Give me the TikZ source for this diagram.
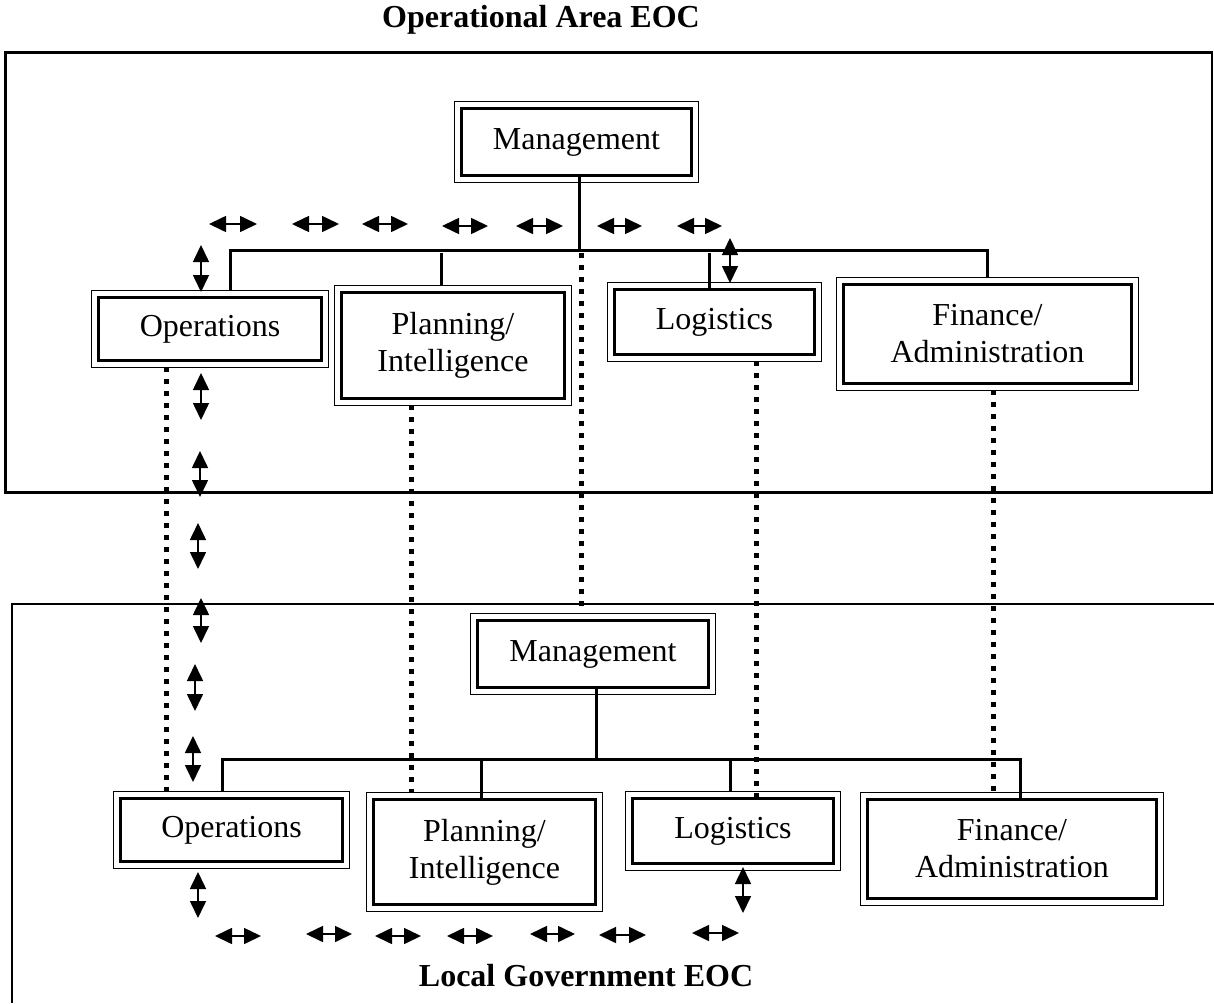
\documentclass[tikz,border=0pt]{standalone}
\usepackage{fontspec}
\setmainfont{Liberation Serif}
\usetikzlibrary{arrows.meta}
\begin{document}
\begin{tikzpicture}[x=1pt,y=-1pt,
  boxtext/.style={font=\fontsize{32}{37}\selectfont},
  dbox/.style={draw, line width=2.8pt, inner sep=0pt, align=center, boxtext},
  outerline/.style={line width=1.4pt},
  conn/.style={line width=3pt},
  dots/.style={line width=5pt, dash pattern=on 5pt off 7pt},
  darr/.style={{Triangle[length=17pt,width=16pt]}-{Triangle[length=17pt,width=16pt]}, line width=1.6pt},
  heading/.style={font=\bfseries\fontsize{32}{37}\selectfont, anchor=base}
]
\useasboundingbox (0,0) rectangle (1214,1003);

% frames
\draw[line width=3.5pt] (1212,52.5) -- (5.5,52.5) -- (5.5,492.5) -- (1212,492.5);
\draw[line width=1.2pt] (1212,51) -- (1212,494);
\draw[line width=1.5pt] (1214,604) -- (12,604) -- (12,1003);

% headings
\node[heading] (t1) at (541,28) {Operational Area EOC};
\node[heading] (t2) at (586,986) {Local Government EOC};

% top boxes
\node[dbox, minimum width=230pt, minimum height=67pt] (tm) at (576.5,142) {Management};
\node[dbox, minimum width=223pt, minimum height=63pt] (to) at (210,329) {Operations};
\node[dbox, minimum width=223pt, minimum height=106pt] (tp) at (453,345.5) {Planning/\\Intelligence};
\node[dbox, minimum width=200pt, minimum height=65pt] (tl) at (714.5,322) {Logistics};
\node[dbox, minimum width=288pt, minimum height=99pt] (tf) at (987.5,334) {Finance/\\Administration};

% bottom boxes
\node[dbox, minimum width=231pt, minimum height=67pt] (bm) at (593,654) {Management};
\node[dbox, minimum width=222pt, minimum height=63pt] (bo) at (231.5,830) {Operations};
\node[dbox, minimum width=222pt, minimum height=105pt] (bp) at (484.5,852) {Planning/\\Intelligence};
\node[dbox, minimum width=201pt, minimum height=65pt] (bl) at (733,831) {Logistics};
\node[dbox, minimum width=289pt, minimum height=99pt] (bf) at (1012,849) {Finance/\\Administration};

% outer thin borders of the double boxes
\foreach \n in {tm,to,tp,tl,tf,bm,bo,bp,bl,bf}
  \draw[outerline] ([shift={(-5.5pt,5.5pt)}]\n.north west) rectangle ([shift={(5.5pt,-5.5pt)}]\n.south east);

% top tree
\coordinate (tbar) at (0,250);
\coordinate (tmx) at (579,0);
\coordinate (tox) at (230,0);
\coordinate (tpx) at (441,0);
\coordinate (tlx) at (709,0);
\coordinate (tfx) at (987,0);
\draw[conn] (tmx |- tm.south) -- (tmx |- tbar);
\draw[conn] (tox |- to.north) ++(0,-5.5) -- (tox |- tbar) -- (tfx |- tbar) -- ([yshift=5.5pt]tfx |- tf.north);
\draw[conn] (tpx |- tbar) ++(0,3) -- ([yshift=5.5pt]tpx |- tp.north);
\draw[conn] (tlx |- tbar) ++(0,3) -- (tlx |- tl.north);

% bottom tree
\coordinate (bbar) at (0,759);
\coordinate (bmx) at (596,0);
\coordinate (box) at (222,0);
\coordinate (bpx) at (481,0);
\coordinate (blx) at (730,0);
\coordinate (bfx) at (1020,0);
\draw[conn] (bmx |- bm.south) -- (bmx |- bbar);
\draw[conn] ([yshift=5.5pt]box |- bo.north) -- (box |- bbar) -- (bfx |- bbar) -- (bfx |- bf.north);
\draw[conn] (bpx |- bbar) -- (bpx |- bp.north);
\draw[conn] (blx |- bbar) -- ([yshift=5.5pt]blx |- bl.north);

% dotted links
\coordinate (dox) at (166,0);
\coordinate (dpx) at (411,0);
\coordinate (dmx) at (581,0);
\coordinate (dlx) at (756,0);
\coordinate (dfx) at (993,0);
\draw[dots] ([yshift=-5.5pt]dox |- to.south) -- ([yshift=5.5pt]dox |- bo.north);
\draw[dots] ([yshift=-5.5pt]dpx |- tp.south) -- ([yshift=5.5pt]dpx |- bp.north);
\draw[dots] ([yshift=-3pt]dmx |- tbar) -- ([yshift=5.5pt]dmx |- bm.north);
\draw[dots] ([yshift=-5.5pt]dlx |- tl.south) -- (dlx |- bl.north);
\draw[dots] ([yshift=-5.5pt]dfx |- tf.south) -- ([yshift=5.5pt]dfx |- bf.north);

% vertical double arrows
\draw[darr] (201,245) -- (201,292);
\draw[darr] (201,373) -- (201,420);
\draw[darr] (200,451) -- (200,497);
\draw[darr] (198,523) -- (198,569);
\draw[darr] (201,598) -- (201,643);
\draw[darr] (195,664) -- (195,711);
\draw[darr] (193,736) -- (193,782);
\draw[darr] (198,872) -- (198,918);
\draw[darr] (730,238) -- (730,283);
\draw[darr] (743,867) -- (743,913);

% horizontal double arrows, top
\draw[darr] (209,224) -- (257,224);
\draw[darr] (292,224) -- (339,224);
\draw[darr] (362,224) -- (408,224);
\draw[darr] (442,226) -- (488,226);
\draw[darr] (516,226) -- (563,226);
\draw[darr] (597,226) -- (642,226);
\draw[darr] (677,226) -- (722,226);

% horizontal double arrows, bottom
\draw[darr] (215,936) -- (261,936);
\draw[darr] (306,934) -- (352,934);
\draw[darr] (375,936) -- (421,936);
\draw[darr] (447,936) -- (493,936);
\draw[darr] (530,934) -- (575,934);
\draw[darr] (599,935) -- (646,935);
\draw[darr] (692,933) -- (739,933);
\end{tikzpicture}
\end{document}
